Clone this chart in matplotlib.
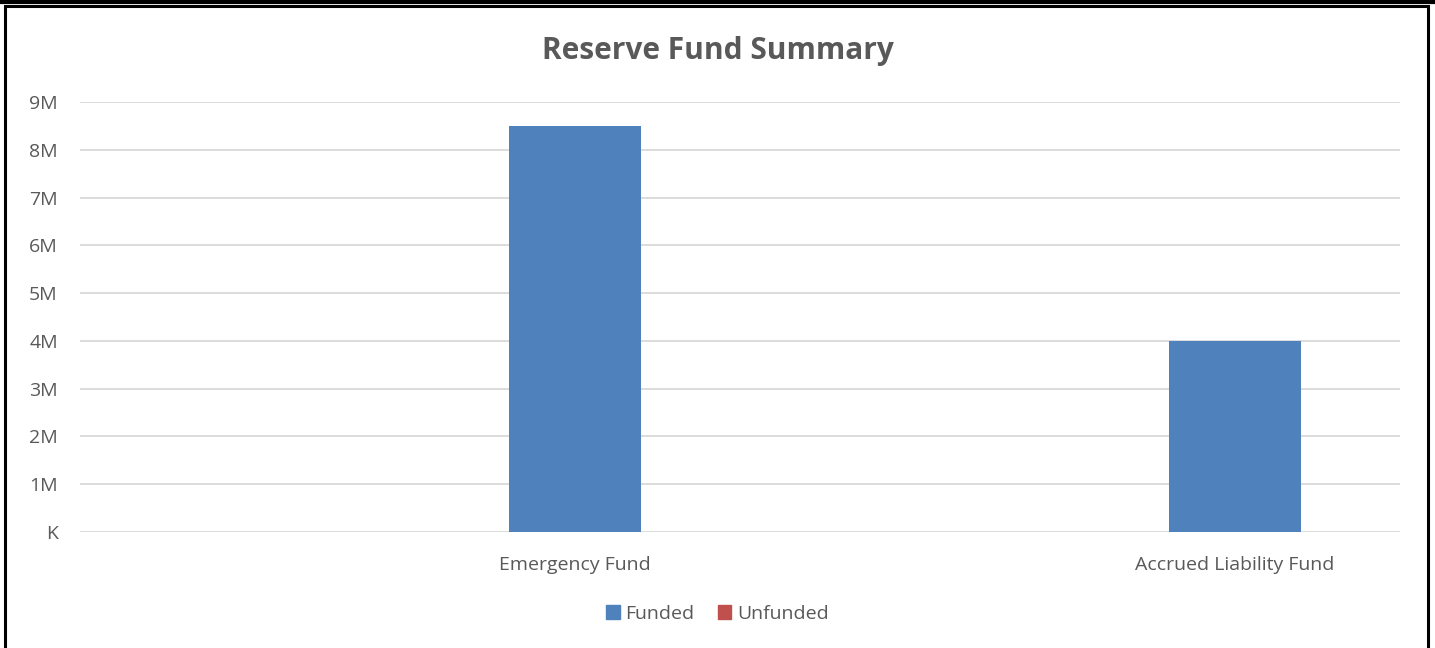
import matplotlib.pyplot as plt
import numpy as np
from matplotlib.ticker import FuncFormatter, MultipleLocator
from matplotlib.patches import Rectangle
from matplotlib.lines import Line2D

# data
categories = ["", "Emergency Fund", "", "Accrued Liability Fund"]
funded = [0, 8.5e6, 0, 4.0e6]
unfunded = [0, 0, 0, 0]
series_names = ["Funded", "Unfunded"]

plt.rcParams['font.family'] = ['Open Sans', 'DejaVu Sans']
grey = "#595959"

fig = plt.figure(figsize=(14.35, 6.48), dpi=100)
ax = fig.add_axes([80/1435, 1-532/648, 1320/1435, 430/648])

x = np.arange(len(categories))
ax.bar(x, funded, width=0.4, color="#4F81BD", label=series_names[0], zorder=3)
ax.bar(x, unfunded, width=0.4, bottom=funded, color="#C0504D", label=series_names[1], zorder=3)

ax.set_xlim(-0.5, len(categories) - 0.5)
ax.set_ylim(0, 9e6)
ax.yaxis.set_major_locator(MultipleLocator(1e6))
ax.yaxis.set_major_formatter(FuncFormatter(lambda v, p: "K" if v == 0 else "%dM" % round(v / 1e6)))
ax.set_xticks(x)
ax.set_xticklabels(categories)
ax.tick_params(axis='both', length=0, labelsize=14, labelcolor=grey)
ax.tick_params(axis='x', pad=17)
ax.tick_params(axis='y', pad=16)
ax.grid(axis='y', color="#D9D9D9", linewidth=1.3, zorder=0)
for s in ax.spines.values():
    s.set_visible(False)

fig.text(0.5, 1-51/648, "Reserve Fund Summary", ha='center', va='center',
         fontsize=21.5, fontweight='bold', color=grey)

h = [Rectangle((0, 0), 1, 1, color="#4F81BD"), Rectangle((0, 0), 1, 1, color="#C0504D")]
fig.legend(h, series_names, loc='center', bbox_to_anchor=(0.5, 1-614/648), ncol=2,
           frameon=False, fontsize=14, labelcolor=grey, handlelength=0.7, handleheight=0.7,
           handletextpad=0.3, columnspacing=1.2)

# frame like the pasted chart
fig.add_artist(Line2D([0, 1], [1-1.5/648, 1-1.5/648], color='black', linewidth=3, transform=fig.transFigure))
fig.add_artist(Rectangle((5/1435, -0.05), 1423/1435, 1.05 - 6.5/648, fill=False,
                         edgecolor='black', linewidth=2.2, transform=fig.transFigure))

fig.savefig("out.png", dpi=100)
